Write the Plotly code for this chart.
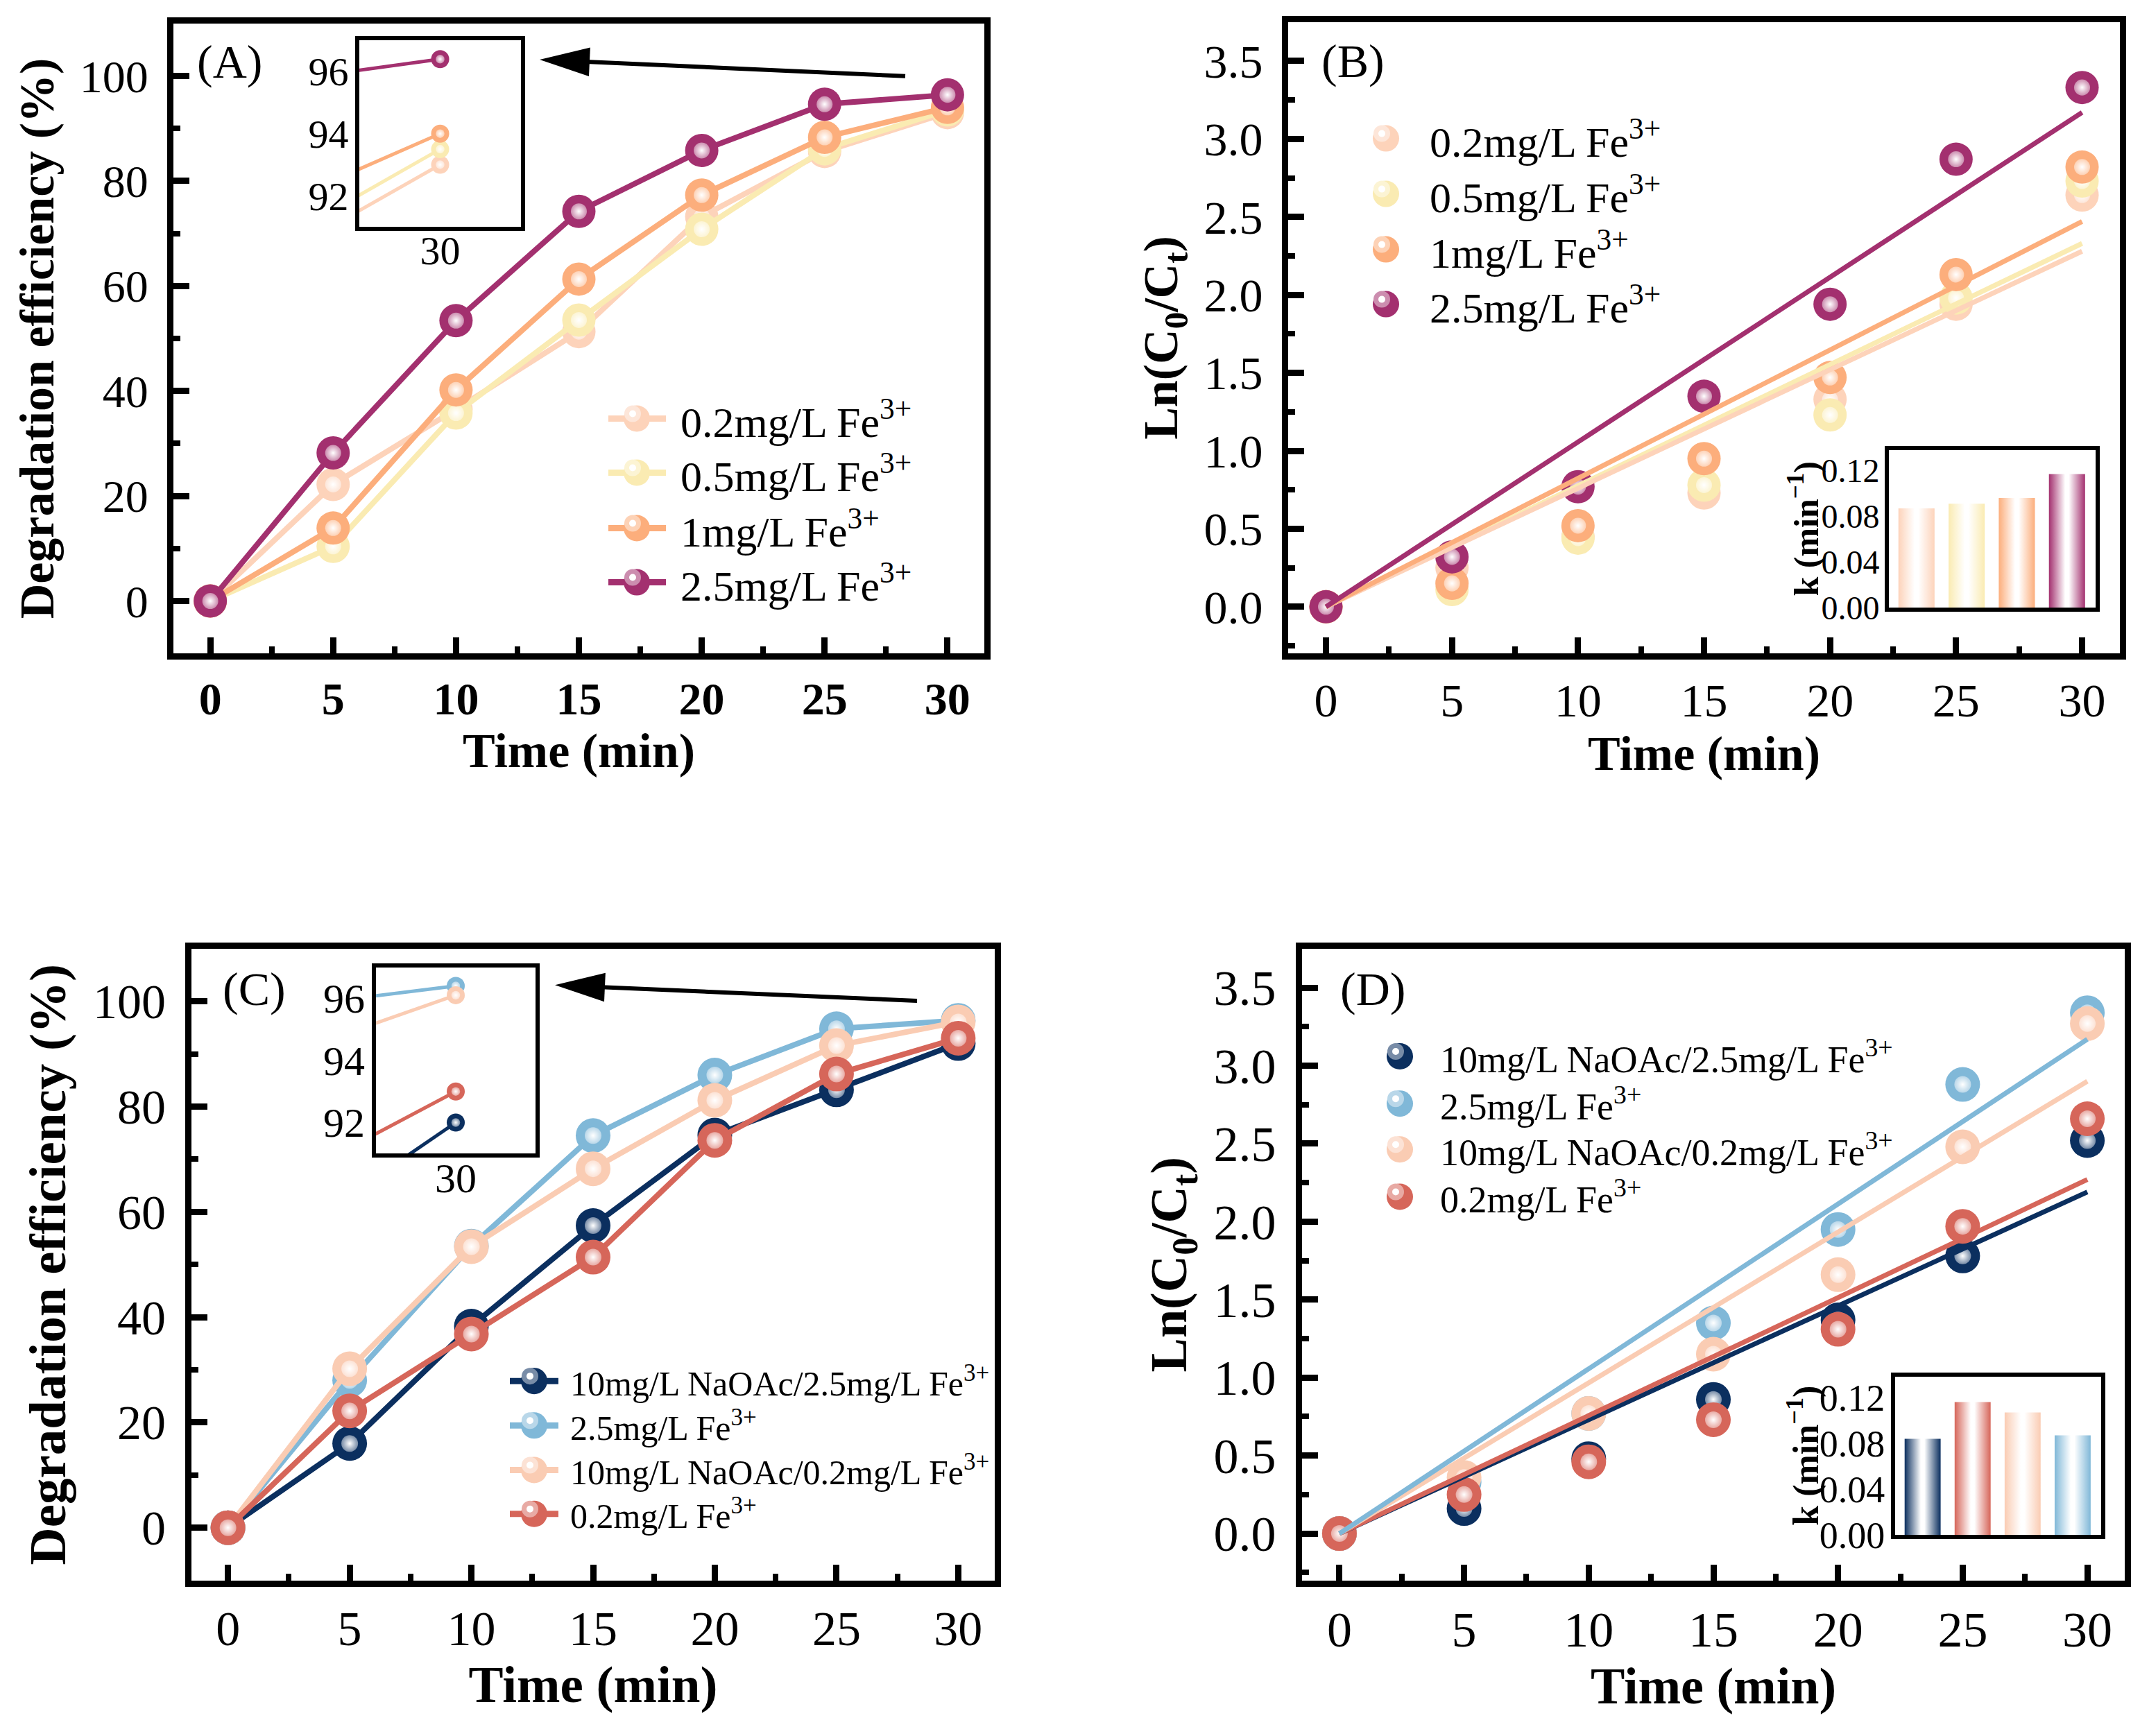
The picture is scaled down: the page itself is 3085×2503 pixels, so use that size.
import plotly.graph_objects as go

W, H = 3085, 2503
FONT = "Liberation Serif, Times New Roman, serif"

# shared time axis (min)
TIME = [0, 5, 10, 15, 20, 25, 30]
FIT_TIME = [0, 30]

# ---- (A)/(B): Fe3+ dosage ----
FE_NAMES = ["0.2mg/L Fe<sup>3+</sup>", "0.5mg/L Fe<sup>3+</sup>",
            "1mg/L Fe<sup>3+</sup>", "2.5mg/L Fe<sup>3+</sup>"]
FE_COLORS = ["#FDD3BA", "#FAEBB2", "#FCAE7C", "#A3306F"]

DEG_FE02 = [0, 22.2, 36.5, 51.3, 73.2, 85.6, 93.0]
DEG_FE05 = [0, 10.4, 35.8, 53.5, 70.8, 86.1, 93.5]
DEG_FE1 = [0, 13.9, 40.2, 61.3, 77.3, 88.3, 94.0]
DEG_FE25 = [0, 28.2, 53.4, 74.2, 85.8, 94.6, 96.4]

LN_FE02 = [0, 0.25, 0.45, 0.73, 1.33, 1.94, 2.64]
LN_FE05 = [0, 0.11, 0.44, 0.78, 1.23, 1.98, 2.73]
LN_FE1 = [0, 0.15, 0.52, 0.95, 1.47, 2.13, 2.82]
LN_FE25 = [0, 0.32, 0.77, 1.35, 1.94, 2.87, 3.33]

FIT_FE02 = [0, 2.28]
FIT_FE05 = [0, 2.33]
FIT_FE1 = [0, 2.47]
FIT_FE25 = [0, 3.17]

K_FE = [0.087, 0.091, 0.096, 0.117]

# ---- (C)/(D): NaOAc addition ----
AC_NAMES = ["10mg/L NaOAc/2.5mg/L Fe<sup>3+</sup>", "2.5mg/L Fe<sup>3+</sup>",
            "10mg/L NaOAc/0.2mg/L Fe<sup>3+</sup>", "0.2mg/L Fe<sup>3+</sup>"]
AC_COLORS = ["#0B2F5F", "#80B8D8", "#FACCB3", "#D6665A"]

DEG_AC25 = [0, 16.0, 38.3, 57.4, 74.6, 83.2, 92.0]
DEG_C25 = [0, 28.0, 53.5, 74.5, 86.0, 94.8, 96.4]
DEG_AC02 = [0, 30.2, 53.4, 68.2, 81.2, 91.6, 96.1]
DEG_C02 = [0, 22.2, 36.8, 51.4, 73.6, 86.2, 93.0]

LN_AC25 = [0, 0.16, 0.48, 0.86, 1.37, 1.78, 2.52]
LN_C25 = [0, 0.33, 0.77, 1.35, 1.95, 2.88, 3.34]
LN_AC02 = [0, 0.36, 0.77, 1.15, 1.66, 2.48, 3.27]
LN_C02 = [0, 0.25, 0.46, 0.73, 1.31, 1.97, 2.66]

FIT_AC25 = [0, 2.19]
FIT_C25 = [0, 3.17]
FIT_AC02 = [0, 2.90]
FIT_C02 = [0, 2.27]

K_AC = [0.084, 0.116, 0.107, 0.087]
K_AC_COLORS = ["#0B2F5F", "#D6665A", "#FACCB3", "#80B8D8"]

BAR_WIDTH = 0.72


def px(x):
    return x / W


def py(y):
    return 1 - y / H


def tint(hexcol, f):
    r, g, b = (int(hexcol[i:i + 2], 16) for i in (1, 3, 5))
    r, g, b = (int(c + (255 - c) * f) for c in (r, g, b))
    return f"rgb({r},{g},{b})"


def balls(fig, x, y, color, size, ax, name, line_w=None):
    # solid ball with a pale radial highlight on top
    mode = "lines+markers" if line_w else "markers"
    fig.add_trace(go.Scatter(x=x, y=y, mode=mode, name=name, showlegend=False,
                             line=dict(color=color, width=line_w or 0),
                             marker=dict(color=color, size=size, line=dict(width=0)),
                             xaxis="x" + ax, yaxis="y" + ax))
    fig.add_trace(go.Scatter(x=x, y=y, mode="markers", showlegend=False, hoverinfo="skip",
                             marker=dict(color=tint(color, 0.45), size=size * 0.48,
                                         gradient=dict(type="radial", color="white"),
                                         line=dict(width=0)),
                             xaxis="x" + ax, yaxis="y" + ax))


def fit_line(fig, y, color, ax):
    fig.add_trace(go.Scatter(x=FIT_TIME, y=y, mode="lines", showlegend=False,
                             line=dict(color=color, width=7),
                             xaxis="x" + ax, yaxis="y" + ax))


def grad_bars(fig, ks, colors, ax):
    h = BAR_WIDTH / 2
    for i, (k, c) in enumerate(zip(ks, colors)):
        fig.add_trace(go.Scatter(
            x=[i - h, i + h, i + h, i - h, i - h], y=[0, 0, k, k, 0],
            mode="lines", fill="toself", line=dict(width=0), showlegend=False,
            fillgradient=dict(type="horizontal",
                              colorscale=[[0, c], [0.45, "white"], [0.55, "white"], [1, c]]),
            xaxis="x" + ax, yaxis="y" + ax))


fig = go.Figure()

# (A)
deg_fe = [DEG_FE02, DEG_FE05, DEG_FE1, DEG_FE25]
for y, c, n in zip(deg_fe, FE_COLORS, FE_NAMES):
    balls(fig, TIME, y, c, 48, "", n, line_w=8)
for y, c, n in zip(deg_fe, FE_COLORS, FE_NAMES):
    balls(fig, TIME, y, c, 26, "5", n, line_w=5)

# (B)
for y, c, n in zip([LN_FE02, LN_FE05, LN_FE1, LN_FE25], FE_COLORS, FE_NAMES):
    balls(fig, TIME, y, c, 48, "2", n)
for y, c in zip([FIT_FE05, FIT_FE02, FIT_FE1, FIT_FE25],
                [FE_COLORS[1], FE_COLORS[0], FE_COLORS[2], FE_COLORS[3]]):
    fit_line(fig, y, c, "2")
grad_bars(fig, K_FE, FE_COLORS, "6")

# (C)
deg_ac = [DEG_AC25, DEG_C25, DEG_AC02, DEG_C02]
for y, c, n in zip(deg_ac, AC_COLORS, AC_NAMES):
    balls(fig, TIME, y, c, 50, "3", n, line_w=8)
for y, c, n in zip(deg_ac, AC_COLORS, AC_NAMES):
    balls(fig, TIME, y, c, 26, "7", n, line_w=5)

# (D)
for y, c, n in zip([LN_AC25, LN_C25, LN_AC02, LN_C02], AC_COLORS, AC_NAMES):
    balls(fig, TIME, y, c, 50, "4", n)
for y, c in zip([FIT_AC25, FIT_C02, FIT_AC02, FIT_C25],
                [AC_COLORS[0], AC_COLORS[3], AC_COLORS[2], AC_COLORS[1]]):
    fit_line(fig, y, c, "4")
grad_bars(fig, K_AC, K_AC_COLORS, "8")

# ---- axes ----
BASE = dict(showline=True, linecolor="black", mirror=True, showgrid=False,
            zeroline=False, tickcolor="black")


def main_axes(i, xdom, ydom, yrange, dtick, tick_size, title_size, ytitle,
              xbold=False, yfmt=None):
    sx = "" if i == 1 else str(i)
    tick = dict(family=FONT, size=tick_size, color="black")
    xtick = dict(tick, weight="bold") if xbold else tick
    ttl = dict(family=FONT, size=title_size, color="black", weight="bold")
    fig.update_layout(**{
        "xaxis" + sx: dict(BASE, domain=xdom, anchor="y" + sx, range=[-1.5, 31.5],
                           tick0=0, dtick=5, linewidth=9, ticks="inside", ticklen=23,
                           tickwidth=9, tickfont=xtick, ticklabelstandoff=0,
                           minor=dict(ticks="inside", ticklen=10, tickwidth=8,
                                      dtick=2.5, tickcolor="black"),
                           title=dict(text="Time (min)", font=ttl, standoff=10)),
        "yaxis" + sx: dict(BASE, domain=ydom, anchor="x" + sx, range=yrange,
                           tick0=0, dtick=dtick, linewidth=9, ticks="inside", ticklen=23,
                           tickwidth=9, tickfont=tick, ticklabelstandoff=14,
                           tickformat=yfmt,
                           minor=dict(ticks="inside", ticklen=10, tickwidth=8,
                                      dtick=dtick / 2, tickcolor="black"),
                           title=dict(text=ytitle, font=ttl, standoff=18)),
    })


def inset_axes(i, xdom, ydom, xrange, yrange, xvals, yvals, tick_size, fmt=None):
    tick = dict(family=FONT, size=tick_size, color="black")
    fig.update_layout(**{
        f"xaxis{i}": dict(BASE, domain=xdom, anchor=f"y{i}", range=xrange, linewidth=6,
                          tickvals=xvals, showticklabels=bool(xvals), ticks="",
                          tickfont=tick, ticklabelstandoff=-22),
        f"yaxis{i}": dict(BASE, domain=ydom, anchor=f"x{i}", range=yrange, linewidth=6,
                          tickvals=yvals, ticks="", tickfont=tick, tickformat=fmt,
                          ticklabelstandoff=-2),
    })


DEG_TITLE = "Degradation efficiency (%)"
LN_TITLE = "Ln(C<sub>0</sub>/C<sub>t</sub>)"
main_axes(1, [px(242), px(1411)], [py(946), py(26)], [-10, 110], 20, 66, 70, DEG_TITLE, xbold=True)
main_axes(2, [px(1849), px(3048)], [py(946), py(24)], [-0.3, 3.75], 0.5, 68, 70, LN_TITLE, yfmt=".1f")
main_axes(3, [px(268), px(1426)], [py(2299), py(1377)], [-10, 110], 20, 70, 75, DEG_TITLE)
main_axes(4, [px(1869), px(3055)], [py(2299), py(1377)], [-0.3, 3.75], 0.5, 72, 74, LN_TITLE, yfmt=".1f")

inset_axes(5, [px(510), px(743)], [py(323), py(51)], [29, 31], [91, 97], [30], [92, 94, 96], 58)
inset_axes(6, [px(2715), px(3013)], [py(879), py(649)], [-0.55, 3.57], [0, 0.138],
           [], [0, 0.04, 0.08, 0.12], 48, ".2f")
inset_axes(7, [px(534), px(764)], [py(1676), py(1404)], [29, 31], [91, 97], [30], [92, 94, 96], 60)
inset_axes(8, [px(2724), px(3021)], [py(2233), py(2002)], [-0.55, 3.57], [0, 0.138],
           [], [0, 0.04, 0.08, 0.12], 54, ".2f")

# ---- decorations: panel letters, arrows, custom legends ----
shapes, notes = [], []


def text(x, y, s, size, anchor="left", angle=0, bold=False):
    notes.append(dict(x=px(x), y=py(y), xref="paper", yref="paper", text=s,
                      showarrow=False, xanchor=anchor, yanchor="middle", textangle=angle,
                      font=dict(family=FONT, size=size, color="black",
                                weight="bold" if bold else "normal")))


def arrow(tail, tip, head_len=72, head_half=21, width=6):
    (x0, y0), (x1, y1) = tail, tip
    dx, dy = x1 - x0, y1 - y0
    L = (dx * dx + dy * dy) ** 0.5
    ux, uy = dx / L, dy / L
    bx, by = x1 - ux * head_len, y1 - uy * head_len
    nx, ny = -uy, ux
    pts = [(x1, y1), (bx + nx * head_half, by + ny * head_half),
           (bx - nx * head_half, by - ny * head_half)]
    path = "M " + " L ".join(f"{px(a):.5f},{py(b):.5f}" for a, b in pts) + " Z"
    shapes.append(dict(type="line", xref="paper", yref="paper", x0=px(x0), y0=py(y0),
                       x1=px(bx + ux * 5), y1=py(by + uy * 5),
                       line=dict(color="black", width=width)))
    shapes.append(dict(type="path", xref="paper", yref="paper", path=path,
                       fillcolor="black", line=dict(width=0)))


def circle(cx, cy, r, color, dx=0, dy=0):
    shapes.append(dict(type="circle", xref="paper", yref="paper", xsizemode="pixel",
                       ysizemode="pixel", xanchor=px(cx), yanchor=py(cy),
                       x0=dx - r, x1=dx + r, y0=dy - r, y1=dy + r,
                       fillcolor=color, line=dict(width=0)))


def legend(names, colors, rows, xm, xtext, size, line=None):
    for n, c, yy in zip(names, colors, rows):
        if line:
            shapes.append(dict(type="line", xref="paper", yref="paper", x0=px(line[0]),
                               x1=px(line[1]), y0=py(yy), y1=py(yy),
                               line=dict(color=c, width=9)))
        circle(xm, yy, 19, c)
        circle(xm, yy, 12, tint(c, 0.45), -6, 7)
        circle(xm, yy, 5, "white", -6, 7)
        text(xtext, yy, n, size)


text(274, 82, "(A)", 68)
text(1895, 81, "(B)", 68)
text(311, 1436, "(C)", 68)
text(1922, 1436, "(D)", 68)

arrow((1297, 103), (770, 79))
arrow((1314, 1453), (792, 1430))

legend(FE_NAMES, FE_COLORS, [603, 682, 763, 842], 910, 971, 62, line=(869, 952))
legend(FE_NAMES, FE_COLORS, [194, 275, 356, 436], 1990, 2051, 62)
legend(AC_NAMES, AC_COLORS, [2008, 2073, 2138, 2202], 762, 812, 50, line=(727, 797))
legend(AC_NAMES, AC_COLORS, [1534, 1603, 1670, 1739], 2010, 2066, 54)

K_TITLE = "k (min<sup>\u22121</sup>)"
text(2593, 764, K_TITLE, 50, anchor="center", angle=-90, bold=True)
text(2592, 2117, K_TITLE, 52, anchor="center", angle=-90, bold=True)

fig.update_layout(width=W, height=H, autosize=False,
                  margin=dict(l=0, r=0, t=0, b=0),
                  paper_bgcolor="white", plot_bgcolor="white",
                  font=dict(family=FONT, color="black"),
                  showlegend=False, shapes=shapes, annotations=notes)

fig.write_html("out.html")
